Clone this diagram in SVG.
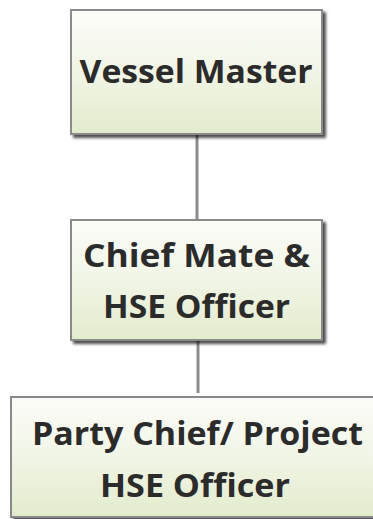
<svg xmlns="http://www.w3.org/2000/svg" width="373" height="519" viewBox="0 0 373 519">
<defs>
<linearGradient id="g" x1="0" y1="0" x2="0" y2="1">
<stop offset="0" stop-color="#fbfcf8"/>
<stop offset="0.5" stop-color="#f1f5e6"/>
<stop offset="1" stop-color="#e2ebcc"/>
</linearGradient>
<filter id="sh" x="-10%" y="-10%" width="130%" height="130%">
<feGaussianBlur in="SourceAlpha" stdDeviation="1.5"/>
<feOffset dx="3" dy="3" result="b"/>
<feComponentTransfer><feFuncA type="linear" slope="0.7"/></feComponentTransfer>
<feMerge><feMergeNode/><feMergeNode in="SourceGraphic"/></feMerge>
</filter>
</defs>
<style>
.box{fill:url(#g);stroke:#8a8a8a;stroke-width:2;filter:url(#sh)}
.t{font-family:"Open Sans","Noto Sans",sans-serif;font-weight:bold;fill:#2b2b2b;text-anchor:middle}
.c{stroke:#8c8c8c;stroke-width:3;fill:none}
</style>
<rect width="373" height="519" fill="#ffffff"/>
<g id="connectors">
<line class="c" x1="197" y1="135" x2="197" y2="220"/>
<line class="c" x1="198" y1="340" x2="198" y2="393"/>
</g>
<g id="node1">
<rect class="box" x="71" y="10" width="251" height="124"/>
<text class="t" x="196" y="83" font-size="33" textLength="233" lengthAdjust="spacingAndGlyphs">Vessel Master</text>
</g>
<g id="node2">
<rect class="box" x="71" y="220" width="251" height="120"/>
<text class="t" x="196.5" y="267" font-size="32" textLength="227" lengthAdjust="spacingAndGlyphs">Chief Mate &amp;</text>
<text class="t" x="196.5" y="318" font-size="32" textLength="187" lengthAdjust="spacingAndGlyphs">HSE Officer</text>
</g>
<g id="node3">
<rect class="box" x="11" y="397" width="380" height="120"/>
<text class="t" x="197.5" y="445" font-size="32" textLength="331" lengthAdjust="spacingAndGlyphs">Party Chief/ Project</text>
<text class="t" x="195" y="497" font-size="32" textLength="190" lengthAdjust="spacingAndGlyphs">HSE Officer</text>
</g>
</svg>
